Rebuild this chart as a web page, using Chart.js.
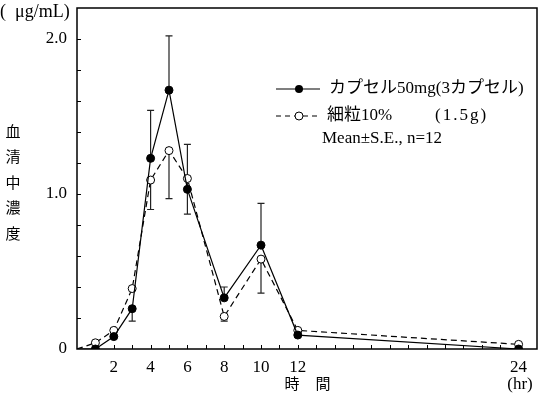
<!DOCTYPE html>
<html>
<head>
<meta charset="utf-8">
<script src="https://cdn.jsdelivr.net/npm/chart.js@4/dist/chart.umd.min.js"></script>
<style>
  html,body{margin:0;padding:0;background:#fff;overflow:hidden;}
  canvas{display:block;}
</style>
</head>
<body>
<canvas id="c" width="538" height="397"></canvas>
<script>
// ---- data ----
const hours          = [0, 1, 2, 3, 4, 5, 6, 8, 10, 12, 24];
const capsule        = [0, 0.00, 0.08, 0.26, 1.23, 1.67, 1.03, 0.33, 0.67, 0.09, 0.00];
const granule        = [0, 0.04, 0.12, 0.39, 1.09, 1.28, 1.10, 0.21, 0.58, 0.12, 0.03];
const capsuleSEUp    = [0, 0, 0, 0, 0.31, 0.35, 0.29, 0.07, 0.27, 0, 0];
const capsuleSEDown  = [0, 0, 0, 0.08, 0, 0, 0, 0, 0, 0, 0];
const granuleSEDown  = [0, 0, 0, 0, 0.19, 0.31, 0.23, 0.03, 0.22, 0, 0];
const xLabelTicks    = [2, 4, 6, 8, 10, 12, 24];
const yLabelTicks    = {0: '0', 1: '1.0', 2: '2.0'};
const seriesNames    = ['カプセル50mg(3カプセル)', '細粒10%'];
const granuleDose    = '(1.5g)';
const noteText       = 'Mean±S.E., n=12';
const yUnit          = '(  μg/mL)';
const yTitle         = '血清中濃度';
const xTitle         = ['時', '間'];
const xUnit          = '(hr)';

const SERIF = '"Liberation Serif", "Noto Sans CJK JP", serif';
const FONT17 = '17px ' + SERIF;

const pts = arr => hours.map((h, i) => ({x: h, y: arr[i]}));

const decor = {
  id: 'decor',
  beforeDatasetsDraw(chart) {
    const ctx = chart.ctx, xs = chart.scales.x, ys = chart.scales.y;
    ctx.save();
    ctx.strokeStyle = '#222';
    ctx.lineWidth = 1.2;
    const bar = (i, from, to) => {
      if (from === to) return;
      const x = xs.getPixelForValue(hours[i]);
      const y1 = ys.getPixelForValue(from), y2 = ys.getPixelForValue(to);
      ctx.beginPath();
      ctx.moveTo(x, y1); ctx.lineTo(x, y2);
      ctx.moveTo(x - 3.5, y2); ctx.lineTo(x + 3.5, y2);
      ctx.stroke();
    };
    hours.forEach((h, i) => {
      if (capsuleSEUp[i]) bar(i, capsule[i], capsule[i] + capsuleSEUp[i]);
      if (capsuleSEDown[i]) bar(i, capsule[i], capsule[i] - capsuleSEDown[i]);
      if (granuleSEDown[i]) bar(i, granule[i], granule[i] - granuleSEDown[i]);
    });
    ctx.restore();
  },
  afterDraw(chart) {
    const ctx = chart.ctx, a = chart.chartArea, xs = chart.scales.x, ys = chart.scales.y;
    ctx.save();
    // frame
    ctx.strokeStyle = '#000';
    ctx.lineWidth = 1.5;
    ctx.strokeRect(a.left, a.top, a.right - a.left, a.bottom - a.top);
    // inside tick marks
    ctx.lineWidth = 1;
    ys.ticks.forEach(t => {
      if (t.value <= ys.min || t.value >= ys.max - 1e-9) return;
      const y = Math.round(ys.getPixelForValue(t.value)) + 0.5;
      ctx.beginPath(); ctx.moveTo(a.left, y); ctx.lineTo(a.left + 4, y); ctx.stroke();
    });
    xs.ticks.forEach(t => {
      if (t.value <= xs.min || t.value >= xs.max) return;
      const x = Math.round(xs.getPixelForValue(t.value)) + 0.5;
      ctx.beginPath(); ctx.moveTo(x, a.bottom); ctx.lineTo(x, a.bottom - 4); ctx.stroke();
    });
    // texts
    ctx.fillStyle = '#000';
    ctx.font = '18px ' + SERIF;
    ctx.textBaseline = 'middle';
    ctx.textAlign = 'left';
    ctx.fillText(yUnit, 0, 12);
    ctx.font = '15px "Noto Sans CJK JP"';
    ctx.textAlign = 'center';
    [...yTitle].forEach((ch, i) => ctx.fillText(ch, 13, 131 + i * 25.5));
    ctx.fillText(xTitle[0], 292, 383);
    ctx.fillText(xTitle[1], 323, 383);
    ctx.font = FONT17;
    ctx.fillText(xUnit, 520, 385);
    // legend
    const lx0 = 276, lx1 = 320, lm = 299, ly1 = 89, ly2 = 116;
    ctx.strokeStyle = '#000'; ctx.lineWidth = 1.2;
    ctx.beginPath(); ctx.moveTo(lx0, ly1); ctx.lineTo(lx1, ly1); ctx.stroke();
    ctx.beginPath(); ctx.arc(lm, ly1, 4, 0, Math.PI * 2); ctx.fillStyle = '#000'; ctx.fill();
    ctx.setLineDash([5, 4]);
    ctx.beginPath(); ctx.moveTo(lx0, ly2); ctx.lineTo(lx1, ly2); ctx.stroke();
    ctx.setLineDash([]);
    ctx.beginPath(); ctx.arc(lm, ly2, 4, 0, Math.PI * 2); ctx.fillStyle = '#fff'; ctx.fill(); ctx.lineWidth = 1; ctx.stroke();
    ctx.fillStyle = '#000';
    ctx.textAlign = 'left';
    ctx.font = FONT17;
    ctx.fillText(seriesNames[0], 329, ly1);
    ctx.fillText(seriesNames[1], 327, ly2);
    ctx.letterSpacing = '2px';
    ctx.fillText(granuleDose, 435, ly2);
    ctx.letterSpacing = '0px';
    ctx.fillText(noteText, 322, 139);
    ctx.restore();
  }
};

new Chart(document.getElementById('c'), {
  type: 'line',
  data: {
    datasets: [
      {
        label: seriesNames[0],
        data: pts(capsule),
        borderColor: '#000', borderWidth: 1.2,
        pointRadius: c => c.dataIndex === 0 ? 0 : 4,
        pointBackgroundColor: '#000', pointBorderColor: '#000', pointBorderWidth: 1,
        tension: 0, order: 1
      },
      {
        label: seriesNames[1],
        data: pts(granule),
        borderColor: '#000', borderWidth: 1.2, borderDash: [6, 4],
        pointRadius: c => c.dataIndex === 0 ? 0 : 4,
        pointBackgroundColor: '#fff', pointBorderColor: '#000', pointBorderWidth: 1,
        tension: 0, order: 2
      }
    ]
  },
  options: {
    responsive: false,
    animation: false,
    devicePixelRatio: 1,
    layout: {autoPadding: false, padding: {top: 8, right: 1, left: 0, bottom: 0}},
    plugins: {legend: {display: false}, tooltip: {enabled: false}},
    scales: {
      x: {
        type: 'linear', min: 0, max: 25,
        grid: {display: false, drawTicks: true, tickLength: 8},
        border: {display: false},
        afterFit: s => { s.height = 48; s.paddingLeft = 0; s.paddingRight = 0; },
        ticks: {
          stepSize: 1, autoSkip: false, maxRotation: 0, padding: 0,
          color: '#000', font: {family: SERIF, size: 17},
          callback: v => xLabelTicks.includes(v) ? String(v) : ''
        }
      },
      y: {
        type: 'linear', min: 0, max: 2.2,
        grid: {display: false, drawTicks: false},
        border: {display: false},
        afterFit: s => { s.width = 77; s.paddingTop = 0; s.paddingBottom = 0; },
        ticks: {
          stepSize: 0.2, autoSkip: false, padding: 10,
          color: '#000', font: {family: SERIF, size: 17},
          callback: v => {
            const k = Math.round(v * 10) / 10;
            return (k in yLabelTicks) ? yLabelTicks[k] : '';
          }
        }
      }
    }
  },
  plugins: [decor]
});
</script>
</body>
</html>
